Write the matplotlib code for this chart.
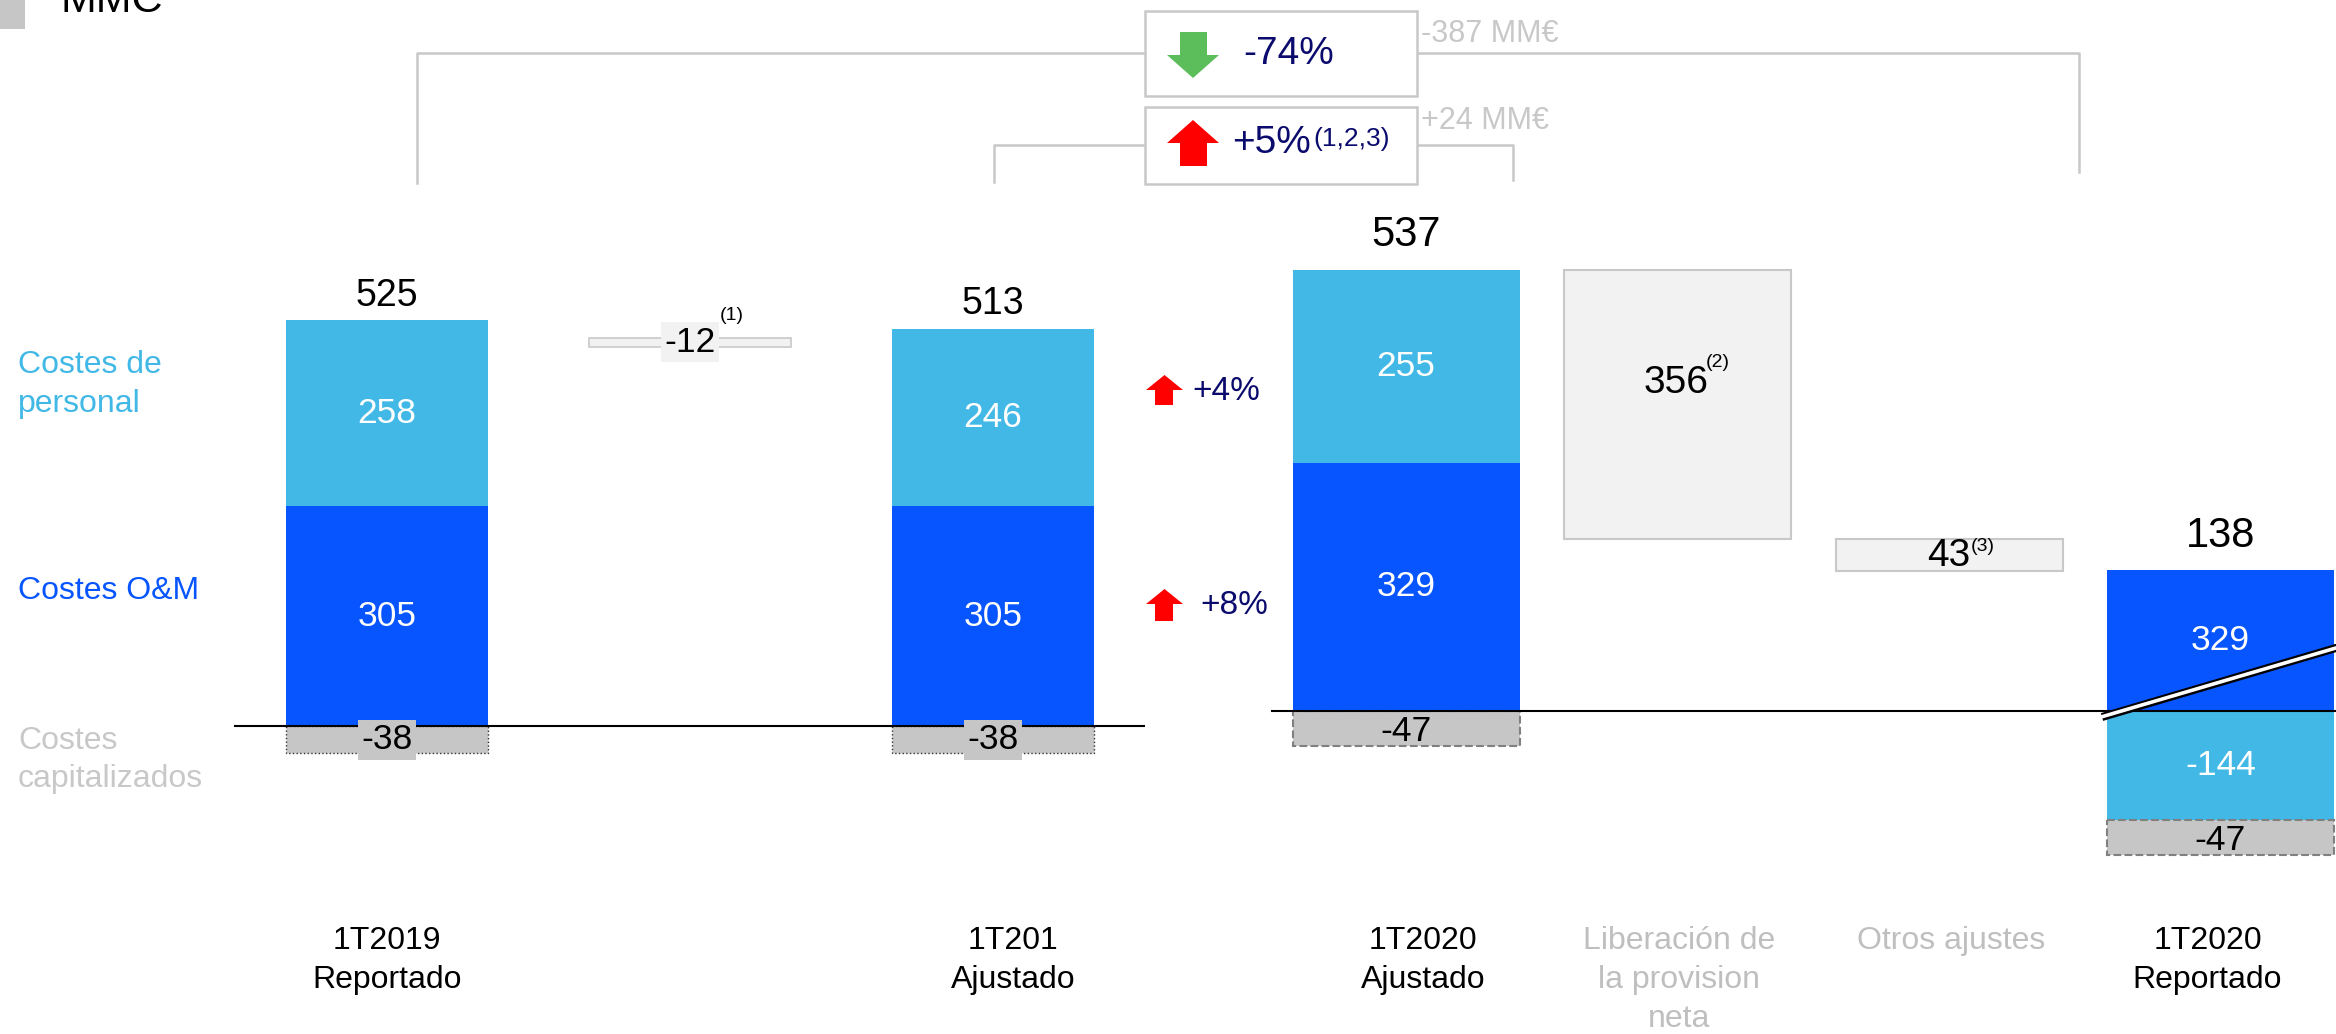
import matplotlib
matplotlib.use("Agg")
import matplotlib.pyplot as plt
from matplotlib.patches import Polygon, Rectangle

plt.rcParams['font.family'] = ['Liberation Sans', 'DejaVu Sans']

# ---------------- data ----------------
title = "MMC"
left_labels = ["1T2019\nReportado", "1T201\nAjustado"]
left_personal = [258, 246]
left_om = [305, 305]
left_cap = [-38, -38]
left_totals = [525, 513]
adj1_text = "-12"
adj1_note = "(1)"
adj1_span = [526, 538]          # drawn extent of the -12 step

aj20_label = "1T2020\nAjustado"
aj20_personal = 255
aj20_om = 329
aj20_cap = -47
aj20_total = 537

release_label = "Liberación de\nla provision\nneta"
release_value = 356
release_note = "(2)"

otros_label = "Otros ajustes"
otros_value = 43
otros_note = "(3)"

rep20_label = "1T2020\nReportado"
rep20_om = 329
rep20_om_drawn = 187            # broken segment height
rep20_personal = -144
rep20_cap = -47
rep20_total = 138

pct_personal = "+4%"
pct_om = "+8%"
pct_total = "-74%"
abs_total = "-387 MM€"
pct_adj = "+5%"
pct_adj_note = "(1,2,3)"
abs_adj = "+24 MM€"

legend_texts = ["Costes de\npersonal", "Costes O&M", "Costes\ncapitalizados"]

# ---------------- style ----------------
LBLUE = '#41B8E6'
BLUE = '#0755FF'
CAPG = '#C6C6C6'
FLOAT = '#F2F2F2'
FLOATE = '#C8C8C8'
NAVY = '#0B0B6E'
GRAYT = '#BFBFBF'
BR = '#C8C8C8'

W, H, DPI = 2336, 1034, 100
fig = plt.figure(figsize=(W / DPI, H / DPI), dpi=DPI)

# overlay in pixel space for annotations
ax0 = fig.add_axes([0, 0, 1, 1])
ax0.set_xlim(0, W)
ax0.set_ylim(H, 0)
ax0.axis('off')

# left data axes
ax1 = fig.add_axes([0, 0, 1, 1])
ax1.set_facecolor('none')
ax1.axis('off')
c1, s1, b1, k1 = 387, 303, 726, 0.721
ax1.set_xlim(-c1 / s1, (W - c1) / s1)
ax1.set_ylim(-(H - b1) / k1, b1 / k1)

# right data axes
ax2 = fig.add_axes([0, 0, 1, 1])
ax2.set_facecolor('none')
ax2.axis('off')
c2, s2, b2, k2 = 1406, 271.5, 711, 0.755
ax2.set_xlim(-c2 / s2, (W - c2) / s2)
ax2.set_ylim(-(H - b2) / k2, b2 / k2)


def yfrac(px):
    return 1 - px / H


VAL_FS = 25.5
LAB_FS = 23
TOT_FS = 27
LINE0, LINESTEP = 941, 39

# ---------------- left section ----------------
xl = [0, 2]
w1 = 202 / s1
ax1.bar(xl, left_om, w1, color=BLUE, lw=0, zorder=2)
ax1.bar(xl, left_personal, w1, bottom=left_om, color=LBLUE, lw=0, zorder=2)
ax1.bar(xl, left_cap, w1, color=CAPG, edgecolor='#333333', linestyle=':', lw=1, zorder=2)
ax1.plot([-0.502, 2.498], [0, 0], color='black', lw=1.5, zorder=3)
for x, om, pe, cp, tot in zip(xl, left_om, left_personal, left_cap, left_totals):
    ax1.text(x, om / 2, str(om), color='white', fontsize=VAL_FS, ha='center', va='center', zorder=4)
    ax1.text(x, om + pe / 2, str(pe), color='white', fontsize=VAL_FS, ha='center', va='center', zorder=4)
    ax1.text(x, cp / 2, str(cp), color='black', fontsize=VAL_FS, ha='center', va='center', zorder=5,
             bbox=dict(boxstyle='square,pad=0.1', fc=CAPG, ec='none'))
    ax1.annotate(str(tot), (x, om + pe), xytext=(0, 17.5), textcoords='offset points',
                 fontsize=TOT_FS, ha='center', va='center', zorder=4)

# adjustment -12
ax1.bar([1], [adj1_span[1] - adj1_span[0]], w1, bottom=adj1_span[0], color=FLOAT,
        edgecolor=FLOATE, lw=1.2, zorder=2)
ymid = sum(adj1_span) / 2
ax1.text(1, ymid, adj1_text, fontsize=VAL_FS, ha='center', va='center', zorder=5,
         bbox=dict(boxstyle='square,pad=0.1', fc=FLOAT, ec='none'))
ax1.annotate(adj1_note, (1, ymid), xytext=(30, 19.5), textcoords='offset points',
             fontsize=14, ha='center', va='center')

# category labels left
left_shift = [0, 0.066]
tr1 = ax1.get_xaxis_transform()
for x, sh, lab in zip(xl, left_shift, left_labels):
    for i, line in enumerate(lab.split('\n')):
        ax1.text(x + sh, yfrac(LINE0 + LINESTEP * i), line, transform=tr1, fontsize=LAB_FS,
                 ha='center', va='center', color='black')

# ---------------- right section ----------------
w2 = 227 / s2
aj20_top = aj20_om + aj20_personal
ax2.bar([0], [aj20_om], w2, color=BLUE, lw=0, zorder=2)
ax2.bar([0], [aj20_personal], w2, bottom=[aj20_om], color=LBLUE, lw=0, zorder=2)
ax2.bar([0], [aj20_cap], w2, color=CAPG, edgecolor='#808080', linestyle='--', lw=1.5, zorder=2)
ax2.text(0, aj20_om / 2, str(aj20_om), color='white', fontsize=VAL_FS, ha='center', va='center', zorder=4)
ax2.text(0, aj20_om + aj20_personal / 2, str(aj20_personal), color='white', fontsize=VAL_FS,
         ha='center', va='center', zorder=4)
ax2.text(0, aj20_cap / 2 - 4, str(aj20_cap), color='black', fontsize=VAL_FS, ha='center', va='center', zorder=5)
ax2.annotate(str(aj20_total), (0, aj20_top), xytext=(0, 25), textcoords='offset points',
             fontsize=30, ha='center', va='center')

# release (waterfall step down from the adjusted top)
release_bottom = aj20_top - release_value
ax2.bar([1], [release_value], w2, bottom=release_bottom, color=FLOAT,
        edgecolor=FLOATE, lw=1.5, zorder=2)
ax2.annotate(str(release_value), (1, aj20_top), xytext=(-1, -81), textcoords='offset points',
             fontsize=28, ha='center', va='center')
ax2.annotate(release_note, (1, aj20_top), xytext=(29, -66.5), textcoords='offset points',
             fontsize=14, ha='center', va='center')

# otros
otros_bottom = release_bottom - otros_value
ax2.bar([2], [otros_value], w2, bottom=otros_bottom, color=FLOAT,
        edgecolor=FLOATE, lw=1.5, zorder=2)
omid = otros_bottom + otros_value / 2
ax2.annotate(str(otros_value), (2, omid), xytext=(0, -1), textcoords='offset points',
             fontsize=28, ha='center', va='center')
ax2.annotate(otros_note, (2, omid), xytext=(24.5, 6), textcoords='offset points',
             fontsize=14, ha='center', va='center')

# 1T2020 reportado
ax2.bar([3], [rep20_om_drawn], w2, color=BLUE, lw=0, zorder=2)
ax2.bar([3], [rep20_personal], w2, color=LBLUE, lw=0, zorder=2)
ax2.bar([3], [rep20_cap], w2, bottom=[rep20_personal], color=CAPG, edgecolor='#808080',
        linestyle='--', lw=1.5, zorder=2)
ax2.text(3, rep20_om_drawn / 2, str(rep20_om), color='white', fontsize=VAL_FS, ha='center', va='center', zorder=4)
ax2.text(3, rep20_personal / 2, str(rep20_personal), color='white', fontsize=VAL_FS, ha='center',
         va='center', zorder=4)
ax2.text(3, rep20_personal + rep20_cap / 2 - 4, str(rep20_cap), color='black', fontsize=VAL_FS,
         ha='center', va='center', zorder=5)
ax2.annotate(str(rep20_total), (3, rep20_om_drawn), xytext=(0, 24), textcoords='offset points',
             fontsize=30, ha='center', va='center')

ax2.plot([-0.494, 3.5], [0, 0], color='black', lw=1.5, zorder=3)
# axis break mark
ax2.plot([2.5635, 3.4586], [-7.95, 87.0], color='black', lw=5.8, solid_capstyle='butt', zorder=6)
ax2.plot([2.56, 3.4586], [-7.95, 87.0], color='white', lw=2.6, solid_capstyle='butt', zorder=7)

right_x = [0, 1, 2, 3]
right_shift = [0.063, 0.005, 0.007, -0.048]
right_labels = [aj20_label, release_label, otros_label, rep20_label]
right_colors = ['black', GRAYT, GRAYT, 'black']
tr2 = ax2.get_xaxis_transform()
for x, sh, lab, col in zip(right_x, right_shift, right_labels, right_colors):
    for i, line in enumerate(lab.split('\n')):
        ax2.text(x + sh, yfrac(LINE0 + LINESTEP * i), line, transform=tr2, fontsize=LAB_FS,
                 ha='center', va='center', color=col)

# ---------------- overlay annotations ----------------
ax0.add_patch(Rectangle((0, 0), 25, 29, color='#C6C6C6', lw=0))
ax0.text(61, 12, title, fontsize=31, va='baseline', ha='left', color='black')

ax0.plot([417, 417, 1145], [183, 53, 53], color=BR, lw=1.8)
ax0.plot([1417, 2079, 2079], [53, 53, 172], color=BR, lw=1.8)
ax0.plot([994, 994, 1145], [182, 145, 145], color=BR, lw=1.8)
ax0.plot([1417, 1513, 1513], [145, 145, 180], color=BR, lw=1.8)
ax0.add_patch(Rectangle((1145, 11), 272, 85, fc='white', ec=BR, lw=1.8, zorder=3))
ax0.add_patch(Rectangle((1145, 107), 272, 77, fc='white', ec=BR, lw=1.8, zorder=3))


def arrow(xl_, xr, sl, sr, ytail, yneck, ytip, color):
    xm = (xl_ + xr) / 2
    pts = [(sl, ytail), (sr, ytail), (sr, yneck), (xr, yneck), (xm, ytip), (xl_, yneck), (sl, yneck)]
    ax0.add_patch(Polygon(pts, closed=True, fc=color, ec='none', zorder=4))


arrow(1167, 1219, 1180, 1207, 32, 55, 78, '#5BBE5B')
arrow(1167, 1219, 1180, 1207, 166, 143, 120, '#FF0000')
arrow(1146, 1183, 1155, 1173, 405, 390, 375, '#FF0000')
arrow(1146, 1183, 1155, 1173, 621, 604, 589, '#FF0000')

ax0.text(1243, 54, pct_total, fontsize=28, color=NAVY, ha='left', va='center', zorder=5)
ax0.text(1232, 143, pct_adj, fontsize=28, color=NAVY, ha='left', va='center', zorder=5)
ax0.text(1313, 139, pct_adj_note, fontsize=19, color=NAVY, ha='left', va='center', zorder=5)
ax0.text(1421, 34, abs_total, fontsize=22, color=BR, ha='left', va='center')
ax0.text(1421, 121, abs_adj, fontsize=22, color=BR, ha='left', va='center')
ax0.text(1192, 391, pct_personal, fontsize=24, color=NAVY, ha='left', va='center')
ax0.text(1200, 606, pct_om, fontsize=24, color=NAVY, ha='left', va='center')

legend_colors = [LBLUE, BLUE, '#C8C8C8']
legend_y = [[365, 404], [591], [741, 779]]
for txt, col, ys in zip(legend_texts, legend_colors, legend_y):
    for line, y in zip(txt.split('\n'), ys):
        ax0.text(18, y, line, fontsize=LAB_FS, color=col, ha='left', va='center')

fig.savefig('out.png', dpi=DPI)
